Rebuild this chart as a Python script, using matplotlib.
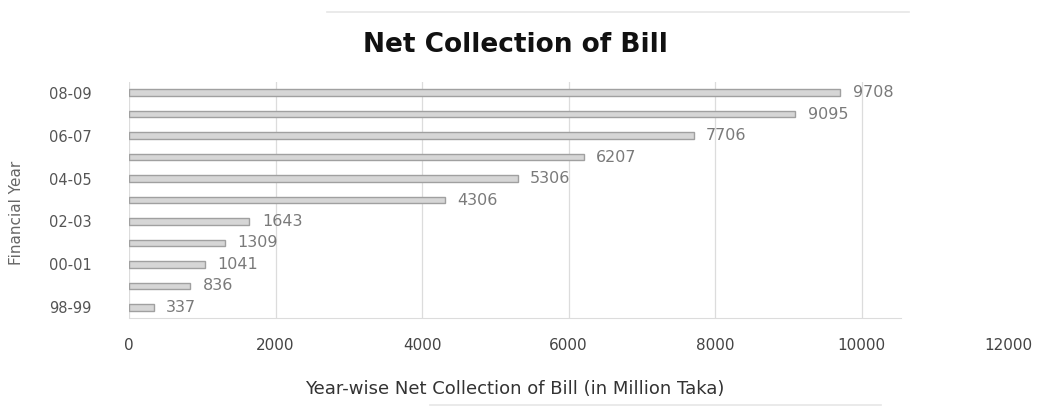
import matplotlib
matplotlib.use("Agg")
import matplotlib.pyplot as plt
import matplotlib.transforms as mtransforms

plt.rcParams["font.family"] = ["DejaVu Sans"]

# Financial years (oldest first) and net collection in million Taka
years = ["98-99", "99-00", "00-01", "01-02", "02-03", "03-04",
         "04-05", "05-06", "06-07", "07-08", "08-09"]
collection = [337, 836, 1041, 1309, 1643, 4306, 5306, 6207, 7706, 9095, 9708]
tick_values = [0, 2000, 4000, 6000, 8000, 10000, 12000]

fig = plt.figure(figsize=(10.37, 4.18), dpi=100)
ax = fig.add_axes([0.1244, 0.239, 0.744, 0.565])

pos = list(range(len(years)))
ax.barh(pos, collection, height=0.3, color="#d6d6d6",
        edgecolor="#a0a0a0", linewidth=1.0, zorder=3)

for p, v in zip(pos, collection):
    ax.text(v + 170, p, f"{v}", va="center", ha="left",
            fontsize=11.5, color="#7a7a7a", zorder=4)

x_max = 10530
ax.set_xlim(0, x_max)
ax.set_ylim(-0.5, 10.5)

ax.set_xticks([t for t in tick_values if t <= x_max])
ax.set_xticklabels([str(t) for t in tick_values if t <= x_max])
ax.tick_params(axis="x", length=0, pad=14, labelsize=11, labelcolor="#444444")
# the last axis value sits beyond the plotting area
trans = mtransforms.blended_transform_factory(ax.transData, ax.transAxes)
for t in tick_values:
    if t > x_max:
        ax.annotate(str(t), xy=(t, 0), xycoords=trans, xytext=(0, -14),
                    textcoords="offset points", ha="center", va="top",
                    fontsize=11, color="#444444", annotation_clip=False)

ax.set_yticks(pos)
ax.set_yticklabels([y if i % 2 == 0 else "" for i, y in enumerate(years)])
ax.tick_params(axis="y", length=0, pad=27, labelsize=10.5, labelcolor="#555555")

ax.grid(axis="x", color="#dcdcdc", linewidth=0.9, zorder=0)
for side in ("top", "right", "left"):
    ax.spines[side].set_visible(False)
ax.spines["bottom"].set_color("#dcdcdc")

ax.set_xlabel("Year-wise Net Collection of Bill (in Million Taka)",
              fontsize=13, color="#333333", labelpad=20)
fig.text(0.016, 0.49, "Financial Year", rotation=90, va="center", ha="center",
         fontsize=11, color="#666666")

fig.text(0.497, 0.893, "Net Collection of Bill", ha="center", va="center",
         fontsize=19, fontweight="bold", color="#111111")

# faint rules above and below the chart
fig.add_artist(plt.Line2D([0.315, 0.877], [0.972, 0.972], color="#e6e6e6", linewidth=1.2))
fig.add_artist(plt.Line2D([0.415, 0.85], [0.03, 0.03], color="#e6e6e6", linewidth=1.2))

fig.savefig("out.png", dpi=100)
